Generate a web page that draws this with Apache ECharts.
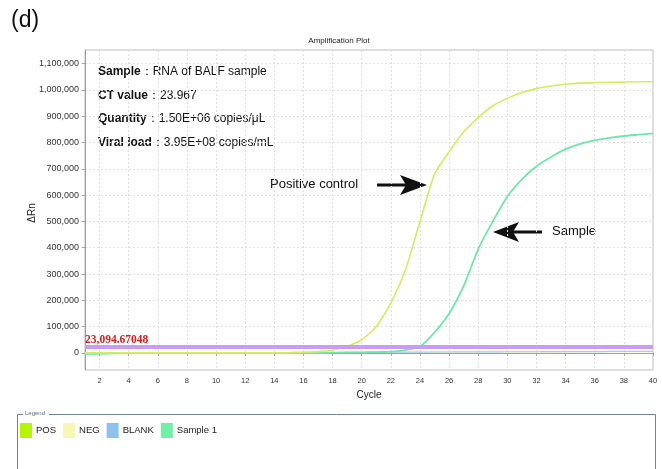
<!DOCTYPE html>
<html>
<head>
<meta charset="utf-8">
<script src="https://cdn.jsdelivr.net/npm/echarts@6/dist/echarts.min.js"></script>
<style>
html,body{margin:0;padding:0;background:#fff;}
#c{width:662px;height:469px;}
</style>
</head>
<body>
<div id="c"></div>
<script>
// ---- data ----
var cycles = [1,2,3,4,5,6,7,8,9,10,11,12,13,14,15,16,17,18,19,20,21,22,23,24,25,26,27,28,29,30,31,32,33,34,35,36,37,38,39,40];
var posValues = [0,0,0,0,0,0,0,0,0,0,0,0,0,0,1000,3000,5000,10000,25000,50000,100000,190000,315000,500000,680000,765000,840000,895000,940000,968000,990000,1005000,1015000,1022000,1026000,1028000,1029000,1030000,1031000,1031000];
var sampleValues = [-4000,-3000,-2000,-1000,-1000,0,0,0,0,0,0,0,0,0,0,0,0,1000,1500,2000,3000,5000,11000,24000,78000,150000,255000,395000,500000,595000,660000,710000,745000,775000,795000,808000,818000,825000,830000,835000];
var negValues = [-2000,-2000,-2000,-1500,-1500,-1000,-1000,-1000,-500,-500,0,0,0,500,500,1000,1000,1500,1500,2000,2000,2500,2500,3000,3000,3000,3500,3500,3500,4000,4000,4000,4000,4500,4500,4500,4500,5000,5000,5000];
var blankValues = [-3000,-2500,-2000,-2000,-1500,-1500,-1000,-1000,-500,-500,0,0,500,500,1000,1000,1500,1500,2000,2000,2500,2500,3000,3000,3500,3500,4000,4000,4000,4500,4500,4500,5000,5000,5000,5000,5500,5500,5500,5500];
var thresholdValue = 23094.67048;
var thresholdLabel = '23,094.67048';
var xTicks = [2,4,6,8,10,12,14,16,18,20,22,24,26,28,30,32,34,36,38,40];
var yTicks = [0,100000,200000,300000,400000,500000,600000,700000,800000,900000,1000000,1100000];
var seriesNames = ['POS','NEG','BLANK','Sample 1'];
var legendColors = ['#b6f400','#f6f7b0','#8cc2ee','#70f0a4'];
var lineColors = ['#d3ed5e','#eef0a4','#a6cdf0','#6ee8a8'];

function pairs(vals){ return cycles.map(function(c,i){ return [c, vals[i]]; }); }
function fmt(v){ return String(v).replace(/\B(?=(\d{3})+(?!\d))/g, ','); }

var chart = echarts.init(document.getElementById('c'), null, {renderer:'canvas'});
var FONT = 'Liberation Sans, Arial, sans-serif';
var rich = { b: { fontWeight: 'bold', fontSize: 12, fontFamily: FONT } };

var option = {
  animation: false,
  textStyle: { fontFamily: FONT },
  title: {
    text: 'Amplification Plot',
    left: 334, top: 32,
    textAlign: 'center',
    textStyle: { fontSize: 8, fontWeight: 'normal', color: '#222', fontFamily: FONT }
  },
  grid: {
    left: 85, right: 9, top: 50, bottom: 99,
    show: true, borderColor: '#bdbdbd', borderWidth: 1
  },
  legend: {
    left: 20, top: 423, padding: 0,
    icon: 'rect', itemWidth: 12, itemHeight: 15, itemGap: 7,
    textStyle: { fontSize: 9.5, color: '#222', fontFamily: FONT, padding: [0,0,0,-1] },
    data: seriesNames.map(function(n,i){ return { name: n, itemStyle: { color: legendColors[i] } }; })
  },
  xAxis: {
    type: 'value', min: 1, max: 40,
    name: 'Cycle', nameLocation: 'middle', nameGap: 20,
    nameTextStyle: { fontSize: 10, color: '#222' },
    axisLine: { show: true, lineStyle: { color: '#a0a0a0' } },
    axisTick: { show: true, length: 3, customValues: xTicks, lineStyle: { color: '#a0a0a0' } },
    axisLabel: { customValues: xTicks, fontSize: 7.5, color: '#333', margin: 7 },
    splitLine: { show: true, lineStyle: { color: '#e0e0e0', type: [2,2] } }
  },
  yAxis: {
    type: 'value', min: -65000, max: 1152000,
    axisLine: { show: true, lineStyle: { color: '#a0a0a0' } },
    axisTick: { show: true, length: 3, customValues: yTicks, lineStyle: { color: '#a0a0a0' } },
    axisLabel: { customValues: yTicks, fontSize: 9, color: '#333', margin: 6, formatter: function(v){ return fmt(v); } },
    splitLine: { show: true, lineStyle: { color: '#e0e0e0', type: [2,2] } }
  },
  series: [
    { name: 'NEG', type: 'line', data: pairs(negValues), showSymbol: false, smooth: 0.2,
      itemStyle: { color: legendColors[1] }, lineStyle: { color: lineColors[1], width: 1.2 }, z: 2 },
    { name: 'BLANK', type: 'line', data: pairs(blankValues), showSymbol: false, smooth: 0.2,
      itemStyle: { color: legendColors[2] }, lineStyle: { color: lineColors[2], width: 1.2 }, z: 2 },
    { name: 'Sample 1', type: 'line', data: pairs(sampleValues), showSymbol: false, smooth: 0.2,
      itemStyle: { color: legendColors[3] }, lineStyle: { color: lineColors[3], width: 1.8 }, z: 3 },
    { name: 'POS', type: 'line', data: pairs(posValues), showSymbol: false, smooth: 0.2,
      itemStyle: { color: legendColors[0] }, lineStyle: { color: lineColors[0], width: 1.6 }, z: 3,
      markLine: {
        silent: true, symbol: 'none',
        lineStyle: { color: '#c79cf2', width: 4, type: 'solid' },
        label: {
          show: true, position: 'insideStartTop', distance: [0, 1],
          formatter: function(){ return thresholdLabel; },
          color: '#e01b1b', fontFamily: 'Liberation Serif, Times New Roman, serif', fontWeight: 'bold', fontSize: 11.5
        },
        data: [{ yAxis: thresholdValue }]
      }
    }
  ],
  graphic: [
    { type: 'text', left: 11, top: 9, style: { text: '(d)', fontSize: 23, fill: '#111', fontFamily: FONT } },
    { type: 'text', x: 32, y: 213, rotation: Math.PI / 2, style: { text: 'ΔRn', fontSize: 10, fill: '#222', fontFamily: FONT, align: 'center', verticalAlign: 'middle' } },
    { type: 'text', left: 98, top: 66, style: { text: '{b|Sample}：RNA of BALF sample', fontSize: 12, fill: '#111', fontFamily: FONT, rich: rich } },
    { type: 'text', left: 98, top: 90, style: { text: '{b|CT value}：23.967', fontSize: 12, fill: '#111', fontFamily: FONT, rich: rich } },
    { type: 'text', left: 98, top: 113, style: { text: '{b|Quantity}：1.50E+06 copies/μL', fontSize: 12, fill: '#111', fontFamily: FONT, rich: rich } },
    { type: 'text', left: 98, top: 137, style: { text: '{b|Viral load}：3.95E+08 copies/mL', fontSize: 12, fill: '#111', fontFamily: FONT, rich: rich } },
    { type: 'text', left: 270, top: 178, style: { text: 'Positive control', fontSize: 13, fill: '#111', fontFamily: FONT } },
    { type: 'line', shape: { x1: 377, y1: 185, x2: 410, y2: 185 }, style: { stroke: '#111', lineWidth: 3 } },
    { type: 'polygon', shape: { points: [[427,185],[400,175],[406,185],[400,195]] }, style: { fill: '#111' } },
    { type: 'text', left: 552, top: 225, style: { text: 'Sample', fontSize: 13, fill: '#111', fontFamily: FONT } },
    { type: 'line', shape: { x1: 510, y1: 232, x2: 542, y2: 232 }, style: { stroke: '#111', lineWidth: 3 } },
    { type: 'polygon', shape: { points: [[493,232],[519,222],[513,232],[519,242]] }, style: { fill: '#111' } },
    { type: 'rect', shape: { x: 17.5, y: 414.5, width: 638, height: 90 }, style: { fill: 'none', stroke: '#6f8299', lineWidth: 1 }, z: -1 },
    { type: 'rect', shape: { x: 23, y: 410, width: 26, height: 8 }, style: { fill: '#fff' }, z: 0 },
    { type: 'text', left: 25, top: 410, style: { text: 'Legend', fontSize: 6, fill: '#5a6b88', fontFamily: FONT }, z: 1 }
  ]
};
chart.setOption(option);
</script>
</body>
</html>
